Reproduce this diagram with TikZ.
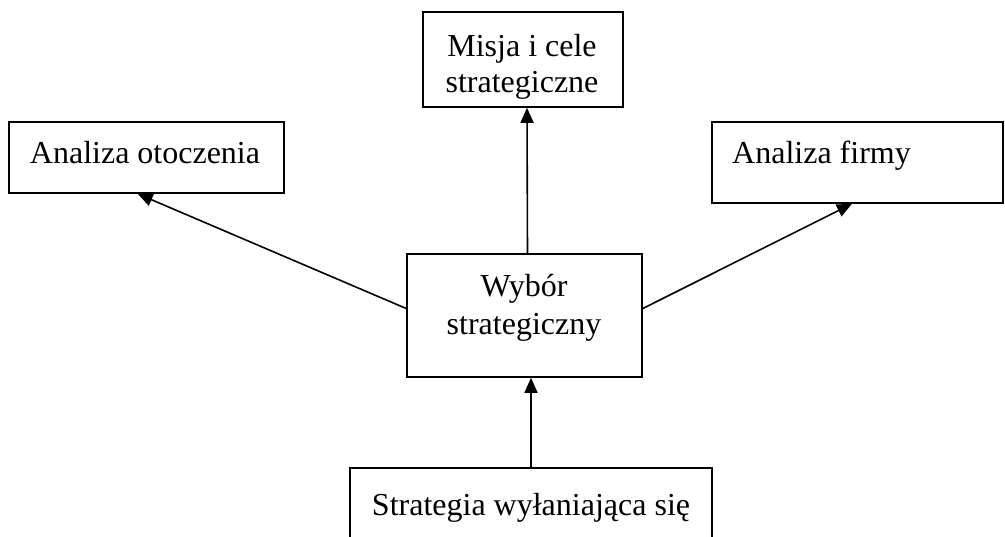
\documentclass[tikz,border=0pt]{standalone}
\usepackage{fontspec}
\setmainfont{Liberation Serif}
\usetikzlibrary{arrows.meta,calc}
\begin{document}
\begin{tikzpicture}[x=1pt,y=-1pt,
  box/.style={draw,line width=1.6pt,rectangle,inner sep=0pt},
  lbl/.style={inner sep=0pt,anchor=base,font=\fontsize{32}{36}\selectfont},
  conn/.style={line width=1.6pt,-{Triangle[width=13pt,length=15pt]}}]
\useasboundingbox (0,0) rectangle (1005,537);
\clip (0,0) rectangle (1005,537);
\fill[white] (0,0) rectangle (1005,537);
% boxes
\node[box,minimum width=200pt,minimum height=95pt] (mi) at (523,59.5) {};
\node[box,minimum width=275pt,minimum height=71pt] (ot) at (146.5,157.5) {};
\node[box,minimum width=291pt,minimum height=81pt] (fi) at (857.5,162.5) {};
\node[box,minimum width=235pt,minimum height=123pt] (wy) at (524.5,315.5) {};
\node[box,minimum width=362pt,minimum height=112pt] (st) at (531,524) {};
% labels
\node[lbl] (mit1) at (522,57) {Misja i cele};
\node[lbl] (mit2) at (522,93) {strategiczne};
\node[lbl] (ott) at (145,164) {Analiza otoczenia};
\node[lbl] (fit) at (821.5,164) {Analiza firmy};
\node[lbl] (wyt1) at (524,297) {Wybór};
\node[lbl] (wyt2) at (524,335) {strategiczny};
\node[lbl] (stt) at (531,515) {Strategia wyłaniająca się};
% connector ends
\coordinate (wyW) at ($(wy.west)+(0,-7)$);
\coordinate (wyE) at ($(wy.east)+(0,-7)$);
\coordinate (otTip) at ($(ot.south west)!0.468!(ot.south east)$);
\coordinate (fiTip) at ($(fi.south west)!0.481!(fi.south east)$);
% connectors
\draw[conn] (wyW) -- (otTip);
\draw[conn] (wyE) -- (fiTip);
\draw[conn] ($(wy.north)+(3,0)$) -- ($(mi.south)+(4,0)$);
\draw[conn] (st.north) -- (st.north |- wy.south);
\end{tikzpicture}
\end{document}
